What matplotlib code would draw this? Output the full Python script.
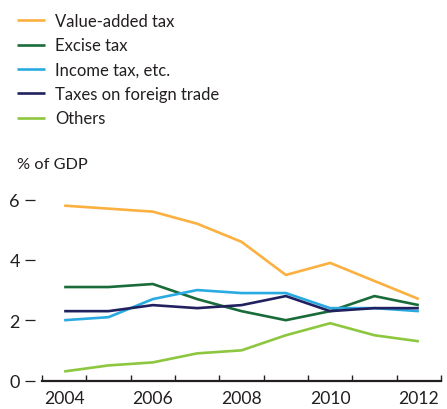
import matplotlib
matplotlib.use("Agg")
import matplotlib.pyplot as plt
from matplotlib.ticker import FixedLocator

plt.rcParams['font.family'] = ['Lato', 'DejaVu Sans']

years = [2004, 2005, 2006, 2007, 2008, 2009, 2010, 2011, 2012]
vat = [5.8, 5.7, 5.6, 5.2, 4.6, 3.5, 3.9, 3.3, 2.7]
excise = [3.1, 3.1, 3.2, 2.7, 2.3, 2.0, 2.3, 2.8, 2.5]
income = [2.0, 2.1, 2.7, 3.0, 2.9, 2.9, 2.4, 2.4, 2.3]
foreign = [2.3, 2.3, 2.5, 2.4, 2.5, 2.8, 2.3, 2.4, 2.4]
others = [0.3, 0.5, 0.6, 0.9, 1.0, 1.5, 1.9, 1.5, 1.3]
labels = ["Value-added tax", "Excise tax", "Income tax, etc.",
          "Taxes on foreign trade", "Others"]
colors = ["#FBB040", "#1A6B3A", "#29ABE2", "#22215F", "#8DC63F"]
xticks = [2004, 2006, 2008, 2010, 2012]
yticks = [0, 2, 4, 6]

fig = plt.figure(figsize=(4.47, 4.10), dpi=100)
ax = fig.add_axes([42/447, 28.5/410, (441-42)/447, 0.478])

handles = []
for series, lab, col in zip([vat, excise, income, foreign, others], labels, colors):
    h, = ax.plot(years, series, color=col, lw=1.9, label=lab, solid_capstyle='butt')
    handles.append(h)

ax.set_xlim(2003.5, 2012.5)
ax.set_ylim(0, 6.5)

ax.spines['top'].set_visible(False)
ax.spines['left'].set_visible(False)
ax.spines['right'].set_visible(False)
ax.spines['bottom'].set_linewidth(1.6)
ax.spines['bottom'].set_color('#231F20')
ax.spines['left'].set_position(('outward', 5))
ax.spines['right'].set_position(('outward', 4))

ax.set_yticks(yticks)
ax.set_yticklabels([str(v) for v in yticks])
ax.tick_params(axis='y', which='major', left=True, right=True, direction='out',
               length=7, width=0.9, color='#231F20', pad=4, labelsize=13,
               labelcolor='#231F20')
for t in ax.yaxis.get_major_ticks():
    t.tick2line.set_markersize(3)

ax.set_xticks(xticks)
ax.set_xticklabels([str(v) for v in xticks])
ax.tick_params(axis='x', which='major', length=0, pad=7, labelsize=12.6,
               labelcolor='#231F20')
ax.xaxis.set_minor_locator(FixedLocator([y + 0.5 for y in range(2003, 2013)]))
ax.tick_params(axis='x', which='minor', direction='in', length=4, width=1,
               color='#231F20', top=False, bottom=True)

fig.text(17/447, 1 - 165/410, "% of GDP", fontsize=11.8, color='#231F20',
         va='center', ha='left')

fig.legend(handles=handles, labels=labels, loc='upper left',
           bbox_to_anchor=(17/447, 1 - 14/410), frameon=False, fontsize=12,
           handlelength=1.7, handletextpad=0.6, labelspacing=0.5,
           borderaxespad=0, borderpad=0, labelcolor='#231F20')

fig.savefig("out.png", dpi=100)
